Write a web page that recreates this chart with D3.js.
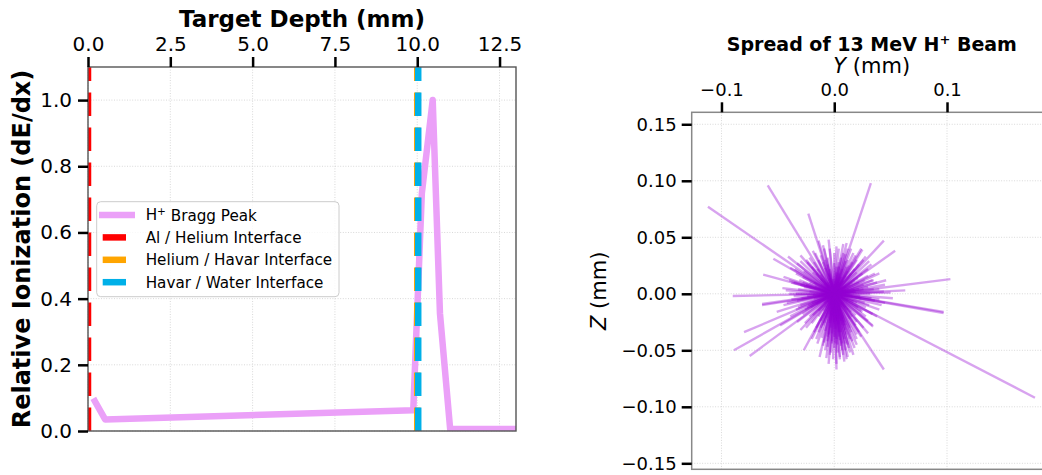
<!DOCTYPE html>
<html><head><meta charset="utf-8">
<script src="https://cdn.jsdelivr.net/npm/d3@7"></script>
<style>
body{margin:0;background:#fff;}
text{font-family:"DejaVu Sans",sans-serif;fill:#000;}
</style></head>
<body><svg id="c" width="1042" height="475"></svg>
<script>
// ---------- data ----------
const depthMm   = [0.21, 0.52, 9.88, 10.14, 10.47, 10.69, 11.0, 13.0];
const ionization= [0.09, 0.035, 0.063, 0.718, 1.0, 0.356, 0.006, 0.006];
const interfaces = [
  {name:"Al / Helium Interface",    x:0.0,   color:"#FF0000"},
  {name:"Helium / Havar Interface", x:10.0,  color:"#FFA500"},
  {name:"Havar / Water Interface",  x:10.03, color:"#00B0E8"}
];
const depthTicks = [0, 2.5, 5, 7.5, 10, 12.5];
const ionTicks = [0, 0.2, 0.4, 0.6, 0.8, 1.0];
const yTicks = [-0.1, 0, 0.1];
const zTicks = [0.15, 0.10, 0.05, 0, -0.05, -0.10, -0.15];
// ray end points [Y, Z] in mm (rays start at origin)
const rayEnds = [
 [-0.112,0.077],[-0.059,0.096],[-0.023,0.071],[0.0325,0.098],[0.044,0.047],[0.054,0.038],
 [0.103,0.013],[0.097,-0.016],[0.097,-0.017],[0.178,-0.092],[0.044,-0.067],[0.002,-0.067],[-0.005,-0.062],
 [-0.075,-0.055],[-0.089,-0.050],[-0.080,-0.034],[-0.090,-0.002],[-0.064,-0.009],[-0.064,-0.010],
 [-0.063,0.017],[-0.054,0.031],[-0.041,0.033],[-0.027,-0.050],[0.0345,-0.029],[0.052,-0.004],
 [0.063,0.003],[-0.014,0.047],[-0.005,0.048],[0.025,0.039],[0.012,-0.056],[-0.051,-0.016],
 [0.011,0.045],[0.017,0.036],[0.002,0.042],[-0.010,0.043],[-0.019,0.038],[-0.030,0.029],
 [-0.039,0.023],[-0.045,0.015],[0.024,0.040],[0.031,0.029],[0.040,0.018],[0.046,0.012],[0.034,0.012],
 [0.005,-0.056],[0.011,-0.058],[-0.013,-0.056],[-0.010,-0.046],[0.034,-0.028],[0.028,-0.020],
 [0.040,-0.005],[-0.039,-0.020],[-0.048,-0.028],[-0.045,-0.010],[-0.038,-0.005],[-0.046,0.005],
 [0.008,0.044],[0.015,0.040],[-0.009,0.040],[0.020,0.030],[0.030,0.022],[0.045,0.008],[0.050,0.001],
 [0.045,-0.008],[0.038,-0.020],[0.030,-0.035],[0.020,-0.045],[0.010,-0.050],[0.005,-0.058],
 [-0.003,-0.052],[-0.016,-0.040],[-0.025,-0.030],[-0.033,-0.025],[-0.040,0.012],[-0.025,0.030],
 [-0.017,0.036],[-0.030,0.008],
 [0.012,0.020],[0.018,0.012],[0.022,0.004],[0.020,-0.008],[0.015,-0.016],[0.008,-0.022],[0.000,-0.025],
 [-0.007,-0.021],[-0.014,-0.015],[-0.020,-0.008],[-0.022,0.002],[-0.018,0.010],[-0.012,0.017],
 [-0.004,0.022],[0.004,0.024],[0.025,0.018],[0.030,0.006],[0.028,-0.012],[0.020,-0.025],[0.010,-0.032],
 [-0.002,-0.035],[-0.012,-0.030],[-0.022,-0.020],[-0.030,-0.010],[-0.032,0.004],[-0.028,0.015],
 [-0.020,0.024],[-0.008,0.030],[0.006,0.032],[0.016,0.028],[0.035,0.012],[0.036,-0.006],[0.026,-0.030],
 [0.014,-0.040],[0.003,-0.045],[-0.006,-0.042],[-0.018,-0.034],[-0.028,-0.018],[-0.036,-0.002],
 [-0.034,0.018],[-0.024,0.028],[-0.012,0.034],[0.000,0.036],[0.010,0.035],[0.022,0.026],
 [0.008,-0.028],[0.004,-0.038],[-0.003,-0.030],[0.012,-0.045],[0.000,-0.048],[-0.005,-0.036],
 [0.015,-0.034],[0.007,-0.050],[-0.008,-0.050],[0.018,-0.048],[0.006,0.015],[0.014,0.008],
 [0.016,-0.002],[0.010,-0.012],[0.002,-0.016],[-0.008,-0.012],[-0.014,-0.002],[-0.012,0.008],
 [-0.004,0.014],[0.040,0.004],[0.042,-0.010],[0.038,0.010],[-0.040,0.000],[-0.042,-0.008],
 [-0.038,0.010],[0.028,0.033],[0.033,0.026],[-0.033,0.027],[-0.026,-0.026],[0.030,-0.024],
 [-0.015,-0.044],[0.002,-0.040],[-0.002,-0.044],[0.006,-0.046],[0.009,-0.040],[-0.009,-0.026],
 [0.004,0.028],[-0.006,0.026],[0.013,0.025],[0.024,-0.015],[-0.024,-0.012],[0.026,0.008],[-0.027,0.006],
 // dense core
 [0.010,0.016],[0.016,0.010],[0.019,0.002],[0.017,-0.007],[0.012,-0.014],[0.005,-0.018],[-0.003,-0.019],
 [-0.010,-0.015],[-0.016,-0.009],[-0.019,-0.001],[-0.017,0.007],[-0.012,0.013],[-0.005,0.018],[0.002,0.019],
 [0.008,0.012],[0.013,0.004],[0.012,-0.006],[0.006,-0.012],[-0.002,-0.013],[-0.009,-0.008],[-0.012,0.001],
 [-0.009,0.009],[-0.001,0.013],[0.007,0.022],[0.021,0.014],[0.024,-0.004],[0.016,-0.020],[0.004,-0.027],
 [-0.012,-0.024],[-0.023,-0.010],[-0.025,0.008],[-0.015,0.022],[0.000,0.027],[0.018,0.022],[0.027,0.012],
 [0.027,-0.008],[0.019,-0.028],[0.006,-0.034],[-0.008,-0.033],[-0.020,-0.026],[-0.029,-0.004],[-0.027,0.020],
 [-0.010,0.028],[0.010,0.029],[0.003,-0.022],[-0.004,-0.026],[0.001,-0.031],[0.009,-0.025],[-0.006,-0.038],
 [0.005,-0.041],[0.011,-0.036],[-0.011,-0.039],[0.016,-0.042],[0.003,-0.052],[-0.001,-0.058],[0.008,-0.054],
 [0.014,-0.052],[-0.006,-0.047],[0.001,-0.044],[0.010,-0.044],[0.020,-0.036],[-0.014,-0.034],[0.024,-0.038],
 [-0.020,-0.040],[-0.030,-0.032],[-0.022,0.032],[-0.030,0.034],[-0.035,0.022],[0.019,0.034],[0.012,0.040],
 [0.004,0.040],[-0.004,0.040],[0.026,0.030],[0.036,0.018],[0.040,-0.014],[0.034,-0.018],[0.022,-0.034],
 [-0.034,-0.014],[-0.036,0.010],[-0.043,0.003],[0.044,0.002],[0.033,-0.004],[0.035,0.004],[-0.033,-0.006],
 [0.020,0.019],[-0.019,0.019],[-0.019,-0.019],[0.019,-0.019],[0.014,0.000],[-0.014,0.005],[0.005,0.009],
 [-0.006,-0.007],[0.008,-0.009],[-0.008,0.004],[0.003,0.006],[-0.002,-0.008],
 [0.015,0.018],[0.022,0.010],[0.023,-0.002],[0.021,-0.012],[0.014,-0.022],[0.006,-0.024],[-0.004,-0.024],
 [-0.014,-0.020],[-0.021,-0.012],[-0.024,-0.002],[-0.022,0.010],[-0.016,0.018],[-0.008,0.023],[0.002,0.024],
 [0.011,0.024],[0.026,0.004],[0.025,-0.016],[0.010,-0.028],[-0.010,-0.028],[-0.026,-0.014],[-0.028,0.010],
 [-0.006,0.032],[0.008,0.036],[0.030,0.016],[0.031,-0.010],[0.014,-0.030],[-0.016,-0.030],[-0.032,-0.012],
 [-0.031,0.012],[-0.014,0.030],[0.000,-0.038],[0.004,-0.034],[-0.002,-0.042],[0.007,-0.044],[-0.009,-0.043],
 [0.013,-0.048],[-0.004,-0.054],[0.009,-0.060],[0.002,-0.062],[-0.007,-0.057],[0.017,-0.054],[0.020,-0.040],
 [0.012,0.030],[-0.018,0.028],[0.032,0.000],[-0.034,0.000],[0.018,0.004],[-0.018,-0.004],[0.004,0.018],
 [-0.004,-0.018],[0.010,0.006],[-0.010,-0.006],[0.006,-0.010],[-0.006,0.010]
];

// ---------- setup ----------
const svg = d3.select("#c");
const fmtMinus = f => v => d3.format(f)(v).replace("-", "\u2212");

// ===== Left panel =====
const L = {x0:88, x1:516, y0:67, y1:431};
const xs = d3.scaleLinear().domain([0,13]).range([L.x0, L.x1]);
const ys = d3.scaleLinear().domain([0,1.1]).range([L.y1, L.y0]);
const gL = svg.append("g");
svg.append("defs").append("clipPath").attr("id","clipL").append("rect")
  .attr("x",L.x0).attr("y",L.y0).attr("width",L.x1-L.x0).attr("height",L.y1-L.y0);

// grid
gL.append("g").selectAll("line").data(depthTicks).join("line")
  .attr("x1",d=>xs(d)).attr("x2",d=>xs(d)).attr("y1",L.y0).attr("y2",L.y1)
  .attr("stroke","#d8d8d8").attr("stroke-width",1).attr("stroke-dasharray","1,1.6");
gL.append("g").selectAll("line").data(ionTicks).join("line")
  .attr("y1",d=>ys(d)).attr("y2",d=>ys(d)).attr("x1",L.x0).attr("x2",L.x1)
  .attr("stroke","#d8d8d8").attr("stroke-width",1).attr("stroke-dasharray","1,1.6");

const plotL = gL.append("g").attr("clip-path","url(#clipL)");
const lineGen = d3.line().x((d,i)=>xs(depthMm[i])).y((d,i)=>ys(ionization[i]));
plotL.append("path").attr("d", lineGen(depthMm)).attr("fill","none")
  .attr("stroke","#EBA0F8").attr("stroke-width",6.5).attr("stroke-linejoin","round").attr("stroke-linecap","square");
plotL.selectAll("line.iface").data(interfaces).join("line").attr("class","iface")
  .attr("x1",d=>xs(d.x)).attr("x2",d=>xs(d.x)).attr("y1",L.y1).attr("y2",L.y0)
  .attr("stroke",d=>d.color).attr("stroke-width",6.5).attr("stroke-dasharray","23.5,11.5");

// spines
gL.append("rect").attr("x",L.x0).attr("y",L.y0).attr("width",L.x1-L.x0).attr("height",L.y1-L.y0)
  .attr("fill","none").attr("stroke","#555").attr("stroke-width",1.4);

// axes
const axTop = d3.axisTop(xs).tickValues(depthTicks).tickFormat(d3.format(".1f")).tickSize(10).tickPadding(6);
const gAT = gL.append("g").attr("transform",`translate(0,${L.y0})`).call(axTop);
const axLeft = d3.axisLeft(ys).tickValues(ionTicks).tickFormat(d3.format(".1f")).tickSize(10).tickPadding(6);
const gAL = gL.append("g").attr("transform",`translate(${L.x0},0)`).call(axLeft);
[gAT,gAL].forEach(g=>{
  g.select(".domain").remove();
  g.selectAll(".tick line").attr("stroke","#000").attr("stroke-width",2.5);
  g.selectAll(".tick text").attr("font-size",20).attr("font-family","DejaVu Sans").attr("fill","#000");
});
gL.append("text").attr("x",(L.x0+L.x1)/2).attr("y",27).attr("text-anchor","middle")
  .attr("font-size",23).attr("font-weight","bold").text("Target Depth (mm)");
gL.append("text").attr("transform",`translate(30,${(L.y0+L.y1)/2}) rotate(-90)`).attr("text-anchor","middle")
  .attr("font-size",24).attr("font-weight","bold").text("Relative Ionization (dE/dx)");

// legend
const lg = gL.append("g");
lg.append("rect").attr("x",96.7).attr("y",201.7).attr("width",242.3).attr("height",95).attr("rx",4)
  .attr("fill","#fff").attr("fill-opacity",0.8).attr("stroke","#ccc").attr("stroke-width",1);
const legendItems = [{name:null, color:"#EBA0F8", solid:true}].concat(interfaces);
legendItems.forEach((d,i)=>{
  const cy = 215 + i*22.4;
  lg.append("line").attr("x1", d.solid?99:102.7).attr("x2", d.solid?135:126).attr("y1",cy).attr("y2",cy)
    .attr("stroke",d.color).attr("stroke-width",6.5);
  const t = lg.append("text").attr("x",145.7).attr("y",cy).attr("dy","0.36em").attr("font-size",15.2);
  if(d.name===null){
    t.append("tspan").text("H");
    t.append("tspan").attr("font-size",10.5).attr("dy","-0.5em").text("+");
    t.append("tspan").attr("dy","0.35em").text(" Bragg Peak");
  } else t.text(d.name);
});

// ===== Right panel =====
const R = {x0:691.7, x1:1052, y0:112.3, y1:469.3};
const xr = d3.scaleLinear().domain([-0.1264, 0.1931]).range([R.x0, R.x1]);
const yr = d3.scaleLinear().domain([-0.1553, 0.1606]).range([R.y1, R.y0]);
const gR = svg.append("g");
svg.select("defs").append("clipPath").attr("id","clipR").append("rect")
  .attr("x",R.x0).attr("y",R.y0).attr("width",R.x1-R.x0).attr("height",R.y1-R.y0);
gR.append("g").selectAll("line").data(yTicks).join("line")
  .attr("x1",d=>xr(d)).attr("x2",d=>xr(d)).attr("y1",R.y0).attr("y2",R.y1)
  .attr("stroke","#d8d8d8").attr("stroke-width",1).attr("stroke-dasharray","1,1.6");
gR.append("g").selectAll("line").data(zTicks).join("line")
  .attr("y1",d=>yr(d)).attr("y2",d=>yr(d)).attr("x1",R.x0).attr("x2",R.x1)
  .attr("stroke","#d8d8d8").attr("stroke-width",1).attr("stroke-dasharray","1,1.6");

gR.append("g").attr("clip-path","url(#clipR)").selectAll("line").data(rayEnds).join("line")
  .attr("x1",xr(0)).attr("y1",yr(0)).attr("x2",d=>xr(d[0])).attr("y2",d=>yr(d[1]))
  .attr("stroke","#9400D3").attr("stroke-opacity",0.36).attr("stroke-width",2.4);

gR.append("rect").attr("x",R.x0).attr("y",R.y0).attr("width",R.x1-R.x0).attr("height",R.y1-R.y0)
  .attr("fill","none").attr("stroke","#888").attr("stroke-width",1.5);

const axRT = d3.axisTop(xr).tickValues(yTicks).tickFormat(fmtMinus(".1f")).tickSize(10).tickPadding(6);
const gRT = gR.append("g").attr("transform",`translate(0,${R.y0})`).call(axRT);
const axRL = d3.axisLeft(yr).tickValues(zTicks).tickFormat(fmtMinus(".2f")).tickSize(10).tickPadding(5);
const gRL = gR.append("g").attr("transform",`translate(${R.x0},0)`).call(axRL);
[gRT,gRL].forEach(g=>{
  g.select(".domain").remove();
  g.selectAll(".tick line").attr("stroke","#000").attr("stroke-width",2.5);
  g.selectAll(".tick text").attr("font-size",18).attr("font-family","DejaVu Sans").attr("fill","#000");
});
const tt = gR.append("text").attr("x",(R.x0+R.x1)/2).attr("y",51).attr("text-anchor","middle")
  .attr("font-size",19).attr("font-weight","bold");
tt.append("tspan").text("Spread of 13 MeV H");
tt.append("tspan").attr("font-size",13).attr("dy","-0.55em").text("+");
tt.append("tspan").attr("dy","0.4em").text(" Beam");
const yl = gR.append("text").attr("x",871.7).attr("y",73).attr("text-anchor","middle").attr("font-size",21);
yl.append("tspan").attr("font-style","italic").text("Y");
yl.append("tspan").text(" (mm)");
const zl = gR.append("text").attr("transform",`translate(606,${(R.y0+R.y1)/2}) rotate(-90)`)
  .attr("text-anchor","middle").attr("font-size",21);
zl.append("tspan").attr("font-style","italic").text("Z");
zl.append("tspan").text(" (mm)");
</script></body></html>
